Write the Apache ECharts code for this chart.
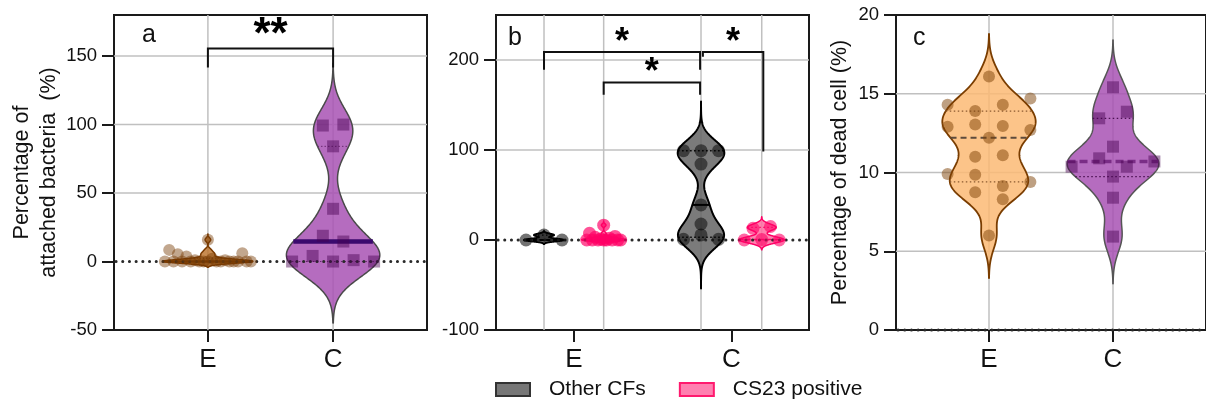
<!DOCTYPE html>
<html><head><meta charset="utf-8">
<script src="https://cdn.jsdelivr.net/npm/echarts@6/dist/echarts.min.js"></script>
<style>html,body{margin:0;padding:0;background:#fff}#c{width:1206px;height:403px}</style>
</head><body><div id="c"></div>
<script>
// ================= DATA =================
const categories = ['E', 'C'];
const legendNames = ['Other CFs', 'CS23 positive'];

const yTicksA = [-50, 0, 50, 100, 150];
const yTicksB = [-100, 0, 100, 200];
const yTicksC = [0, 5, 10, 15, 20];

// a: percentage of attached bacteria (%)
const attachedE = [0, 8.5, 0, 5.4, 0, 3.7, 0, 1, 0, 0, 0, 2, 0, 0, 1, 0, 0, 0, 6.1, 0, 0, 15.9];
const attachedC = [0, 4.1, 0, 1, 0, 18.8, 14.6, 38.5, 84.1, 99.3, 100];

// b: attached bacteria by group
const otherCFsE = [0, 5.5, 0];
const cs23E = [0, 7.4, 0, 3, 0, 1, 0, 0, 2, 0, 4, 0, 0, 16.5];
const otherCFsC = [0.7, 5.6, 0.7, 17.8, 39, 84.4, 99.3, 99.3, 99.3];
const cs23C = [0, 13, 0.5, 15, 0];

// c: percentage of dead cell (%)
const deadCellE = [16.1, 14.3, 13.9, 14.3, 14.7, 12.9, 13.05, 12.95, 12.7, 12.2, 11.0, 11.1, 9.9, 9.85, 9.15, 9.4, 8.75, 8.3, 6.0];
const deadCellC = [15.41, 13.44, 13.86, 11.64, 10.37, 10.9, 10.37, 10.7, 9.74, 8.4, 5.93];

const sigLabelsA = ['**'];
const sigLabelsB = ['*', '*', '*'];

// ================= LAYOUT / STYLE =================
const FONT = '"Liberation Sans", Arial, Helvetica, sans-serif';
const PANELS = [
  {left:114, top:15, width:313, height:315, yMin:-50, yMax:180, ticks:yTicksA, cat:[0.3,0.7],
   vgrid:[0.3,0.7], hgrid:[50,100,150], name:'Percentage of\nattached bacteria  (%)', nameGap:50, letter:'a', letterPos:[150,37]},
  {left:496, top:15, width:313, height:315, yMin:-100, yMax:250, ticks:yTicksB, cat:[0.2487,0.752],
   vgrid:[0.1534,0.344,0.655,0.849], hgrid:[100,200], name:'', nameGap:0, letter:'b', letterPos:[516,40]},
  {left:896, top:15, width:313, height:315, yMin:0, yMax:20, ticks:yTicksC, cat:[0.3,0.7],
   vgrid:[0.3,0.7], hgrid:[5,10,15], name:'Percentage of dead cell (%)', nameGap:42, letter:'c', letterPos:[921,40]}
];
// brackets: [x1, x2, top, leftEnd, rightEnd, labelY]
const BRACKETS = [
  {panel:0, labels:sigLabelsA, font:44, items:[[0.3, 0.7, 155.6, 141.7, 141.7, 171.5]]},
  {panel:1, labels:sigLabelsB, font:36, items:[
    [0.1534, 0.652, 208.9, 189.2, 189.2, 227.6],
    [0.661, 0.854, 208.9, 203.7, 98.4, 227.6],
    [0.344, 0.652, 175.1, 161.4, 161.4, 194.8]]}
];

const purpleFill = 'rgba(168,82,180,0.85)';
const VIOLINS = [
  {panel:0, series:'a-E', x:0.3, values:attachedE, h:1.4, tail:3, maxHalf:45,
   fill:'rgba(190,120,50,0.85)', stroke:'#7a3a00', lw:1.5, marker:'circle', mColor:'rgba(120,60,5,0.45)', size:12,
   binH:9.5, spacing:20.5, maxW:86, asc:true,
   median:{color:'#7a3a00', width:2.5}, quart:{color:'#7a3a00', width:1, dash:[1,2]}},
  {panel:0, series:'a-C', x:0.7, values:attachedC, h:14, tail:3.2, maxHalf:46.7,
   fill:purpleFill, stroke:'#4a4a4a', lw:1.5, marker:'square', mColor:'rgba(70,0,80,0.45)', size:12,
   binH:9.5, spacing:20.5, maxW:86, asc:false,
   median:{color:'#3b0a6e', width:4.5}, quart:{color:'#6a2a70', width:1, dash:[1.5,2]}},
  {panel:1, series:legendNames[0], x:0.1534, values:otherCFsE, h:1.5, tail:3, maxHalf:20,
   fill:'rgba(100,100,100,0.85)', stroke:'#000', lw:2, marker:'circle', mColor:'rgba(0,0,0,0.55)', size:13,
   binH:11, spacing:18, maxW:36, asc:true,
   median:{color:'#000', width:2}, quart:{color:'#000', width:1.2, dash:[1.5,2.5]}},
  {panel:1, series:legendNames[1], x:0.344, values:cs23E, h:1.5, tail:3, maxHalf:22,
   fill:'rgba(255,108,161,0.85)', stroke:'#ff0066', lw:1.5, marker:'circle', mColor:'rgba(255,0,102,0.68)', size:13,
   binH:11, spacing:18, maxW:34, asc:true,
   median:{color:'#ff0066', width:1.5, dash:[4,3]}, quart:{color:'#ff0066', width:1.2, dash:[1.5,2.5]}},
  {panel:1, series:legendNames[0], x:0.655, values:otherCFsC, h:13, tail:4.2, maxHalf:23.3,
   fill:'rgba(100,100,100,0.85)', stroke:'#000', lw:2, marker:'circle', mColor:'rgba(0,0,0,0.5)', size:13,
   binH:11, spacing:17.5, maxW:36, asc:false,
   median:{color:'#000', width:2}, quart:{color:'#000', width:1.5, dash:[1.5,2.5]}},
  {panel:1, series:legendNames[1], x:0.849, values:cs23C, h:3.5, tail:3.1, maxHalf:22.5,
   fill:'rgba(255,108,161,0.85)', stroke:'#ff0066', lw:1.5, marker:'circle', mColor:'rgba(255,0,102,0.6)', size:13,
   binH:11, spacing:17.5, maxW:36, asc:false,
   median:{color:'#ff0066', width:1.5, dash:[4,3]}, quart:{color:'#ff0066', width:1.2, dash:[1.5,2.5]}},
  {panel:2, series:'c-E', x:0.3, values:deadCellE, h:0.9, tail:3, maxHalf:46.7,
   fill:'rgba(251,186,116,0.85)', stroke:'#7a3d00', lw:1.8, marker:'circle', mColor:'rgba(125,65,5,0.5)', size:12,
   binH:0.82, spacing:27.6, maxW:84, asc:false,
   median:{color:'#5e4b3c', width:2, dash:[6,4]}, quart:{color:'#8a5a30', width:1.2, dash:[1.5,2.5]}},
  {panel:2, series:'c-C', x:0.7, values:deadCellC, h:1.0, tail:3, maxHalf:45.8,
   fill:purpleFill, stroke:'#555', lw:1.5, marker:'square', mColor:'rgba(70,0,80,0.45)', size:12,
   binH:0.7, spacing:27.6, maxW:84, asc:false,
   median:{color:'#7a2d86', width:3.5, dash:[8,4]}, quart:{color:'#4a1050', width:1.3, dash:[1.5,2.5]}}
];

// ================= HELPERS =================
function pct(s, p) {
  const n = s.length; let r = (n + 1) * p;
  if (r < 1) r = 1; if (r > n) r = n;
  const lo = Math.floor(r), f = r - lo;
  if (lo >= n) return s[n - 1];
  return s[lo - 1] + f * (s[lo] - s[lo - 1]);
}
function buildProfile(v) {
  const vals = v.values, h = v.h;
  const mn = Math.min(...vals), mx = Math.max(...vals);
  const lo = mn - v.tail * h, hi = mx + v.tail * h;
  const dens = y => vals.reduce((s, x) => s + Math.exp(-0.5 * ((y - x) / h) ** 2), 0);
  const N = 320, raw = []; let fmax = 0;
  for (let i = 0; i <= N; i++) { const y = lo + (hi - lo) * i / N; const d = dens(y); raw.push([y, d]); if (d > fmax) fmax = d; }
  v.profile = raw.map(([y, d]) => [y, d / fmax * v.maxHalf]);
  v.hwAt = y => dens(y) / fmax * v.maxHalf;
  const s = vals.slice().sort((a, b) => a - b);
  v.q1 = pct(s, 0.25); v.med = pct(s, 0.5); v.q3 = pct(s, 0.75);
}
function swarm(v) {
  const vals = v.values;
  const idx = vals.map((_, i) => i).sort((a, b) => v.asc ? vals[a] - vals[b] : vals[b] - vals[a]);
  const rows = []; let cur = null;
  for (const i of idx) {
    if (!cur || Math.abs(vals[i] - cur.start) > v.binH) { cur = {start: vals[i], items: []}; rows.push(cur); }
    cur.items.push(i);
  }
  const off = new Array(vals.length).fill(0);
  for (const r of rows) {
    r.items.sort((a, b) => a - b);
    const n = r.items.length;
    const sp = n > 1 ? Math.min(v.spacing, v.maxW / (n - 1)) : 0;
    r.items.forEach((i, k) => { off[i] = (k - (n - 1) / 2) * sp; });
  }
  return off;
}
VIOLINS.forEach(buildProfile);

// ================= OPTION =================
const grids = [], xAxes = [], yAxes = [], series = [], graphics = [];
PANELS.forEach((p, i) => {
  grids.push({left:p.left, top:p.top, width:p.width, height:p.height, show:true,
    borderColor:'#1a1a1a', borderWidth:2, backgroundColor:'transparent'});
  xAxes.push({gridIndex:i, type:'value', min:0, max:1,
    axisLine:{show:true, onZero:false, lineStyle:{color:'#1a1a1a', width:2}},
    axisTick:{show:true, customValues:p.cat, length:12, lineStyle:{color:'#1a1a1a', width:2}},
    axisLabel:{customValues:p.cat, fontSize:26, color:'#111', margin:17, fontFamily:FONT,
      formatter: val => { let best = 0; p.cat.forEach((c, k) => { if (Math.abs(c - val) < Math.abs(p.cat[best] - val)) best = k; }); return categories[best]; }},
    splitLine:{show:false}});
  yAxes.push({gridIndex:i, type:'value', min:p.yMin, max:p.yMax,
    axisLine:{show:true, onZero:false, lineStyle:{color:'#1a1a1a', width:2}},
    axisTick:{show:true, customValues:p.ticks, length:12, lineStyle:{color:'#1a1a1a', width:2}},
    axisLabel:{customValues:p.ticks, fontSize:18.5, color:'#111', margin:17, fontFamily:FONT},
    splitLine:{show:false},
    name:p.name, nameLocation:'middle', nameGap:p.nameGap,
    nameTextStyle:{fontSize:21.5, lineHeight:27, color:'#111', fontFamily:FONT}});
  // gridlines
  series.push({type:'custom', name:'grid' + i, xAxisIndex:i, yAxisIndex:i, z:1, silent:true,
    data:[[0.5, p.yMin]],
    renderItem:(params, api) => {
      const ch = [];
      p.vgrid.forEach(xv => { const a = api.coord([xv, p.yMin]), b = api.coord([xv, p.yMax]);
        ch.push({type:'line', shape:{x1:a[0], y1:a[1], x2:b[0], y2:b[1]}, style:{stroke:'#c0c0c0', lineWidth:1.5}}); });
      p.hgrid.forEach(yv => { const a = api.coord([0, yv]), b = api.coord([1, yv]);
        ch.push({type:'line', shape:{x1:a[0], y1:a[1], x2:b[0], y2:b[1]}, style:{stroke:'#c0c0c0', lineWidth:1.5}}); });
      return {type:'group', children:ch};
    }});
  // dotted zero line
  series.push({type:'custom', name:'zero' + i, xAxisIndex:i, yAxisIndex:i, z:3, silent:true,
    data:[[0.5, 0]],
    renderItem:(params, api) => {
      const a = api.coord([0, 0]), b = api.coord([1, 0]);
      return {type:'line', shape:{x1:a[0] + 2, y1:a[1], x2:b[0], y2:b[1]},
        style:{stroke:'#2a2a2a', lineWidth:3, lineDash:[0.1, 6.6], lineCap:'round'}};
    }});
  graphics.push({type:'text', left:p.letterPos[0] - 8, top:p.letterPos[1] - 14,
    style:{text:p.letter, font:'25px ' + FONT, fill:'#111'}});
});

// violins grouped by series name
const vgroups = {};
VIOLINS.forEach((v, k) => { (vgroups[v.series] = vgroups[v.series] || {panel:v.panel, items:[]}).items.push(k); });
Object.keys(vgroups).forEach(name => {
  const g = vgroups[name];
  series.push({type:'custom', name, xAxisIndex:g.panel, yAxisIndex:g.panel, z:2, silent:true,
    itemStyle:{color:VIOLINS[g.items[0]].fill},
    data:g.items.map(k => [VIOLINS[k].x, 0, k]),
    renderItem:(params, api) => {
      const v = VIOLINS[api.value(2)];
      const cx = api.coord([v.x, 0])[0];
      const right = [], left = [];
      for (const [y, hw] of v.profile) { const py = api.coord([v.x, y])[1]; right.push([cx + hw, py]); left.push([cx - hw, py]); }
      const ch = [{type:'polygon', shape:{points:right.concat(left.reverse())},
        style:{fill:v.fill, stroke:v.stroke, lineWidth:v.lw, lineJoin:'round'}}];
      const addLine = (val, st) => { const py = api.coord([v.x, val])[1]; const hw = v.hwAt(val);
        ch.push({type:'line', shape:{x1:cx - hw, y1:py, x2:cx + hw, y2:py},
          style:{stroke:st.color, lineWidth:st.width, lineDash:st.dash || null}}); };
      addLine(v.q1, v.quart); addLine(v.q3, v.quart); addLine(v.med, v.median);
      return {type:'group', children:ch};
    }});
});

// points
VIOLINS.forEach((v, k) => {
  const off = swarm(v);
  series.push({type:'custom', name:'pts' + k, xAxisIndex:v.panel, yAxisIndex:v.panel, z:4, silent:true,
    data:v.values.map((val, j) => [v.x, val, off[j]]),
    renderItem:(params, api) => {
      const p = api.coord([api.value(0), api.value(1)]);
      const cx = p[0] + api.value(2), cy = p[1], s = v.size;
      if (v.marker === 'square') return {type:'rect', shape:{x:cx - s / 2, y:cy - s / 2, width:s, height:s}, style:{fill:v.mColor}};
      return {type:'circle', shape:{cx, cy, r:s / 2}, style:{fill:v.mColor}};
    }});
});

// significance brackets
BRACKETS.forEach((B, bi) => {
  series.push({type:'custom', name:'sig' + bi, xAxisIndex:B.panel, yAxisIndex:B.panel, z:5, silent:true,
    data:B.items.map((it, j) => [...it, j]),
    renderItem:(params, api) => {
      const x1 = api.value(0), x2 = api.value(1), top = api.value(2), le = api.value(3), re = api.value(4), ly = api.value(5);
      const j = api.value(6);
      const pts = [api.coord([x1, le]), api.coord([x1, top]), api.coord([x2, top]), api.coord([x2, re])];
      const lp = api.coord([(x1 + x2) / 2, ly]);
      return {type:'group', children:[
        {type:'polyline', shape:{points:pts}, style:{stroke:'#111', lineWidth:2, fill:null}},
        {type:'text', style:{text:B.labels[j], x:lp[0], y:lp[1] + B.font * 0.22,
          font:'bold ' + B.font + 'px ' + FONT, fill:'#000', align:'center', verticalAlign:'middle',
          textAlign:'center', textVerticalAlign:'middle'}}
      ]};
    }});
});

const option = {
  animation:false,
  textStyle:{fontFamily:FONT},
  grid:grids, xAxis:xAxes, yAxis:yAxes, series, graphic:graphics,
  legend:{left:495, top:379, padding:0, itemGap:33, itemWidth:34, itemHeight:13, selectedMode:false,
    textStyle:{fontSize:21, color:'#111', fontFamily:FONT, padding:[0, 0, 0, 14]},
    data:[{name:legendNames[0], icon:'rect', itemStyle:{color:'#777', borderColor:'#333', borderWidth:2}},
          {name:legendNames[1], icon:'rect', itemStyle:{color:'#ff80b0', borderColor:'#ff1a6e', borderWidth:2}}]}
};
const chart = echarts.init(document.getElementById('c'));
chart.setOption(option);
</script>
</body></html>
